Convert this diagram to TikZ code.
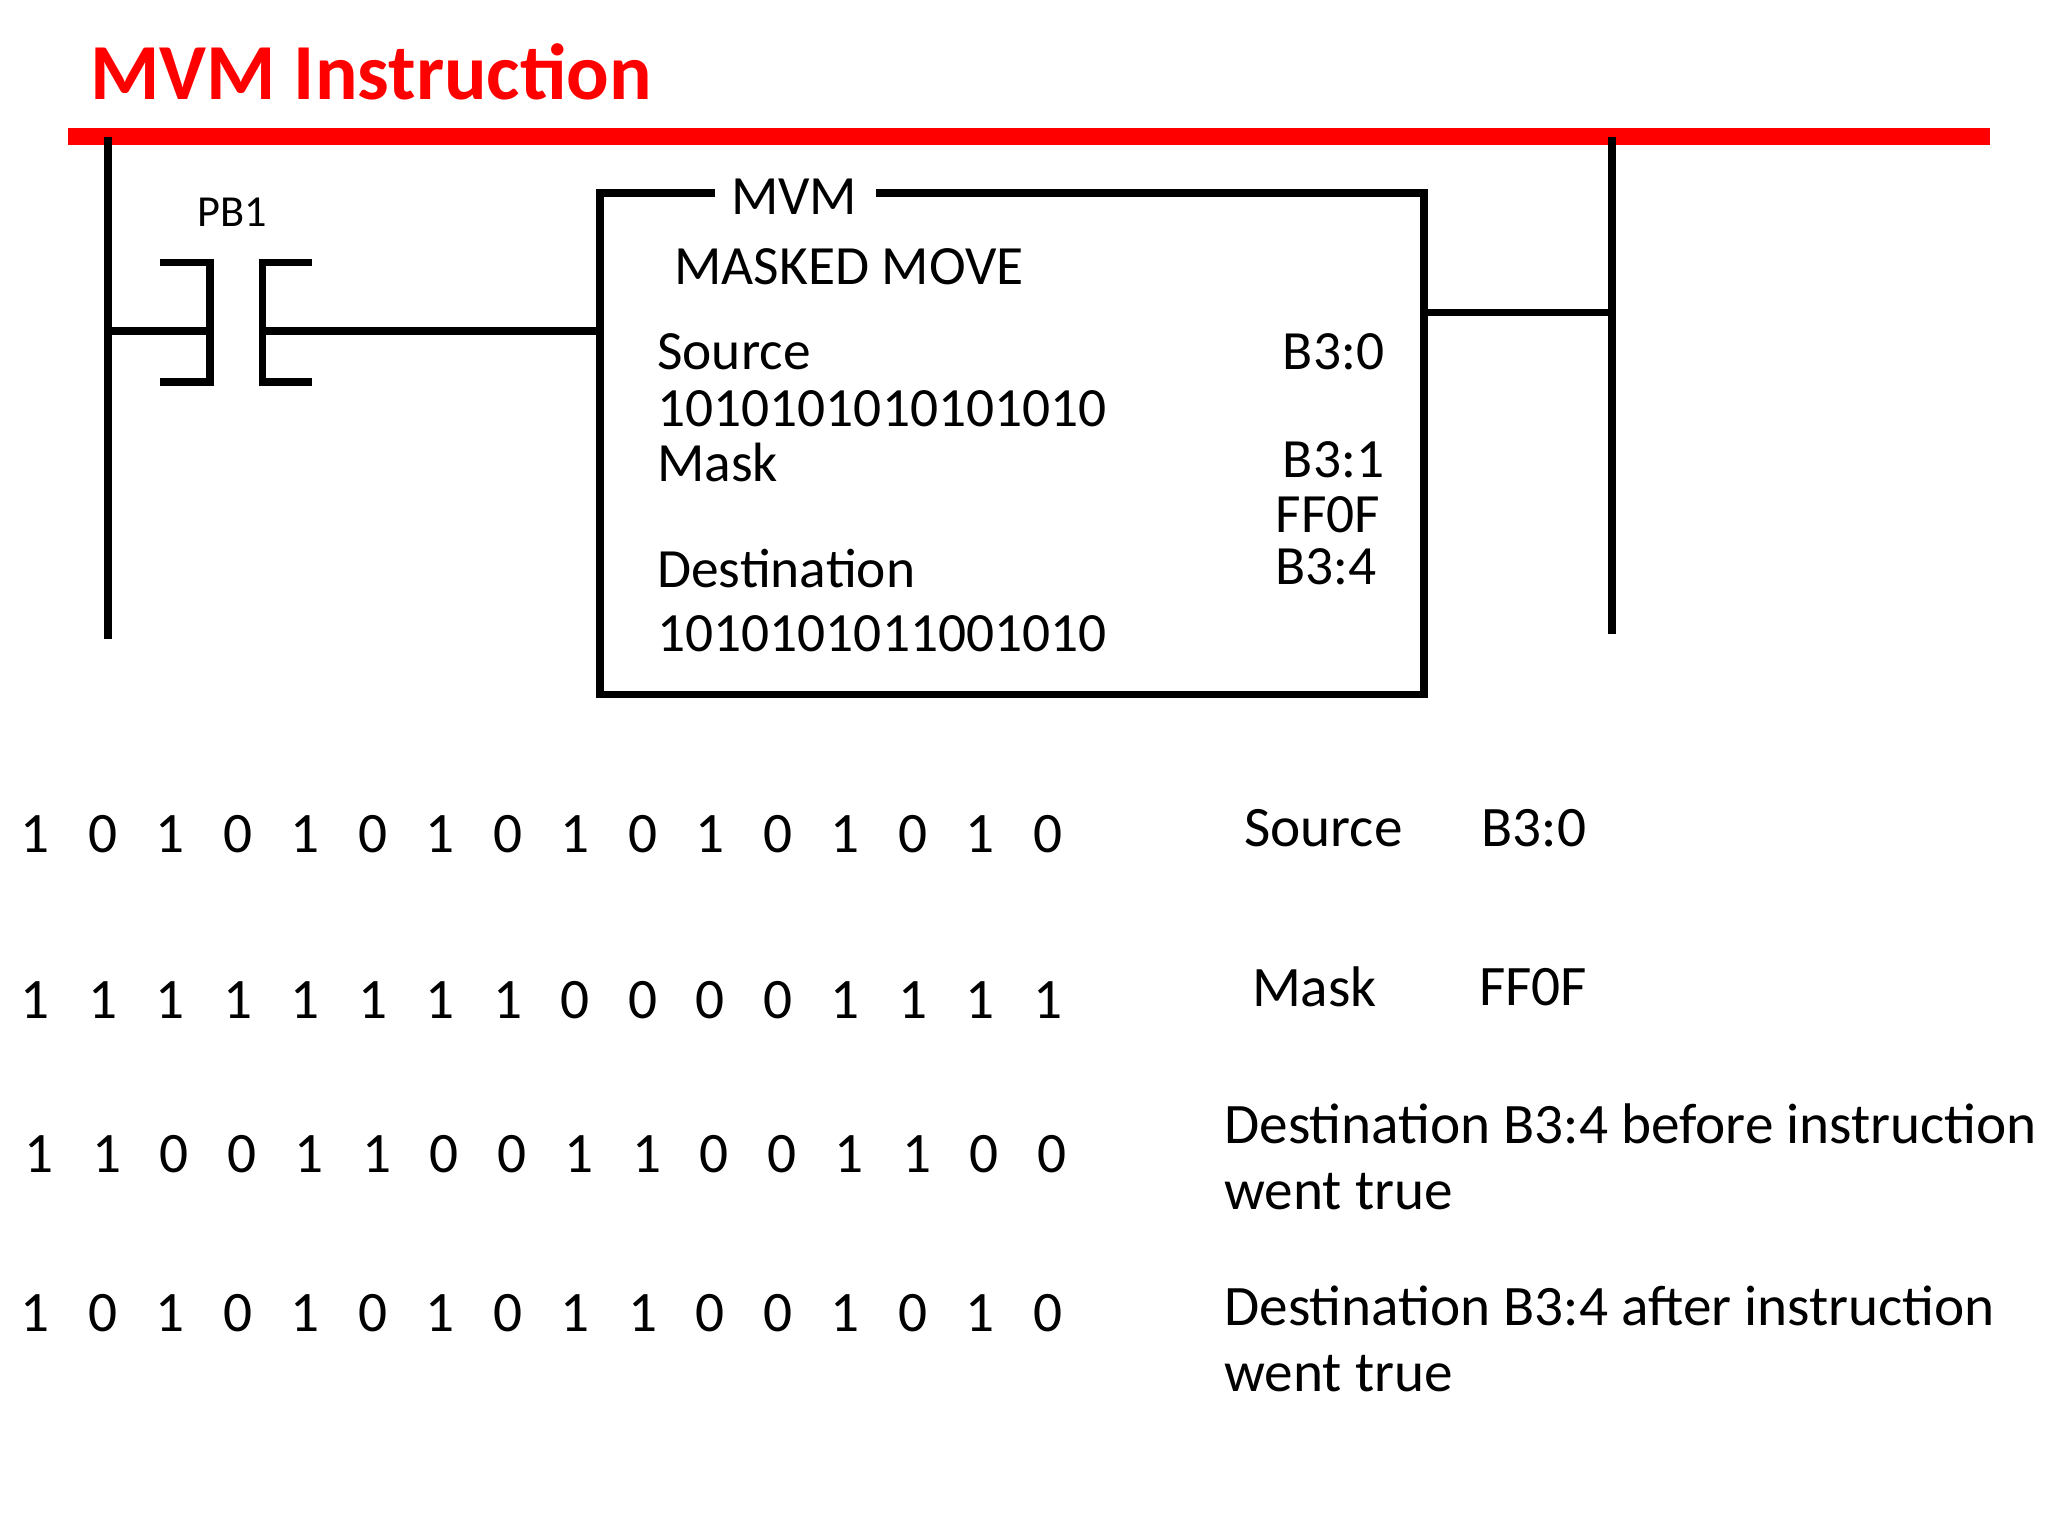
\documentclass[tikz,border=0pt]{standalone}
\usepackage{fontspec}
\setmainfont{Carlito}
\begin{document}
\begin{tikzpicture}[x=0.01cm,y=-0.01cm,
 w/.style={line width=1.7pt},
 t/.style={inner sep=0pt,font=\fontsize{12pt}{14pt}\selectfont},
 b/.style={inner sep=0pt,font=\fontsize{12.4pt}{15pt}\selectfont}]
\useasboundingbox (0,0) rectangle (1560,1170);
\node[inner sep=0pt,anchor=west,text=red,font=\bfseries\fontsize{17.2pt}{20pt}\selectfont] (title) at (68,55) {MVM Instruction};
\coordinate (r1) at (52,104); \coordinate (r2) at (1516,104);
\draw[red,line width=3.5pt] (r1) -- (r2);
\coordinate (la) at (82,104); \coordinate (lb) at (82,487);
\coordinate (ra) at (1228,104); \coordinate (rb) at (1228,483);
\draw[w] (la) -- (lb); \draw[w] (ra) -- (rb);
\node[inner sep=0pt,font=\fontsize{9.6pt}{12pt}\selectfont] (pb) at (177,162) {PB1};
\draw[w] (122,200) -- (160,200) -- (160,291) -- (122,291);
\draw[w] (238,200) -- (200,200) -- (200,291) -- (238,291);
\draw[w] (82,252) -- (160,252);
\draw[w] (200,252) -- (457,252);
\draw[w] (545,147) -- (457,147) -- (457,529) -- (1085,529) -- (1085,147) -- (667,147);
\node[t] (mvm) at (605,150) {MVM};
\draw[w] (1085,238) -- (1228,238);
\node[t,anchor=west] at (513,203) {MASKED MOVE};
\node[t,anchor=west] at (500,268) {Source};
\node[t,anchor=east] at (1055,268) {B3:0};
\node[t,anchor=west] at (500,311) {1010101010101010};
\node[t,anchor=west] at (500,352) {Mask};
\node[t,anchor=east] at (1055,350) {B3:1};
\node[t,anchor=east] at (1052,392) {FF0F};
\node[t,anchor=west] at (500,433) {Destination};
\node[t,anchor=east] at (1049,432) {B3:4};
\node[t,anchor=west] at (500,483) {1010101011001010};
\foreach \r/\y/\x in {{1,0,1,0,1,0,1,0,1,0,1,0,1,0,1,0}/635/27,{1,1,1,1,1,1,1,1,0,0,0,0,1,1,1,1}/762/27,{1,1,0,0,1,1,0,0,1,1,0,0,1,1,0,0}/879/30,{1,0,1,0,1,0,1,0,1,1,0,0,1,0,1,0}/1000/27}{
 \foreach \v [count=\i from 0] in \r {\node[b] at ({\x+51.4*\i},\y) {\v};}}
\node[b,anchor=west] at (947,631) {Source};
\node[b,anchor=west] at (1128,631) {B3:0};
\node[b,anchor=west] at (953,752) {Mask};
\node[b,anchor=west] at (1126,752) {FF0F};
\node[b,anchor=west] at (932,856) {Destination B3:4 before instruction};
\node[b,anchor=west] at (932,908) {went true};
\node[b,anchor=west] at (932,995) {Destination B3:4 after instruction};
\node[b,anchor=west] at (932,1046) {went true};
\end{tikzpicture}
\end{document}
